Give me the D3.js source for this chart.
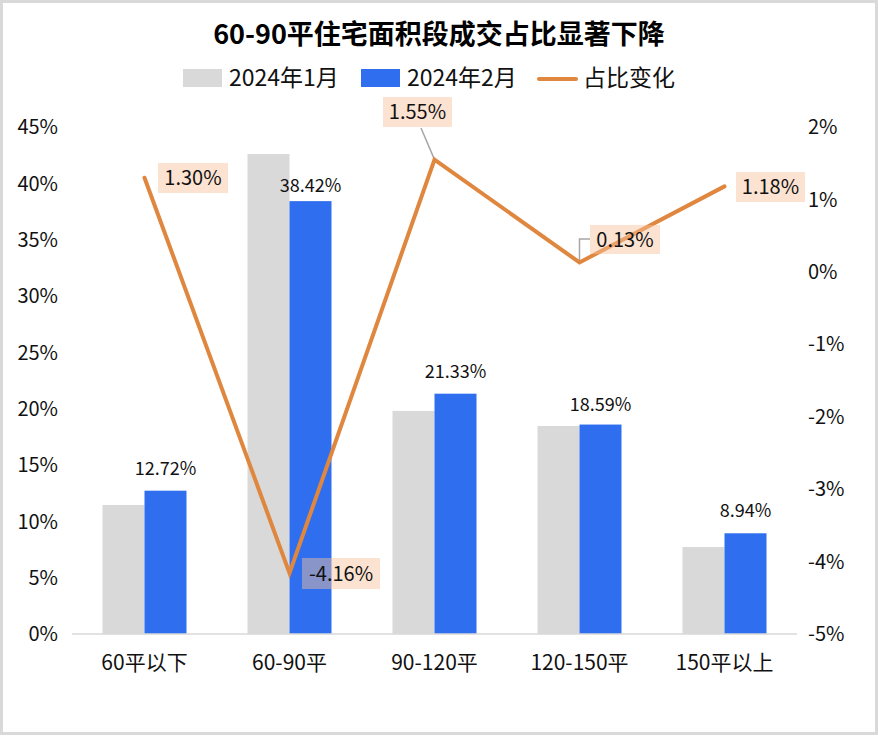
<!DOCTYPE html>
<html><head><meta charset="utf-8">
<script src="https://cdn.jsdelivr.net/npm/d3@7"></script>
<style>
html,body{margin:0;padding:0;background:#fff;}
svg{display:block;}
text{font-family:"Noto Sans CJK SC","Noto Sans",sans-serif;}
</style></head>
<body>
<svg id="chart" width="878" height="736"></svg>
<script>
const title = "60-90平住宅面积段成交占比显著下降";
const categories = ["60平以下", "60-90平", "90-120平", "120-150平", "150平以上"];
const seriesNames = ["2024年1月", "2024年2月", "占比变化"];
const jan = [0.1145, 0.426, 0.198, 0.1846, 0.0772];
const feb = [0.1272, 0.3842, 0.2133, 0.1859, 0.0894];
const change = [0.0130, -0.0416, 0.0155, 0.0013, 0.0118];
const leftTicks = [0, 0.05, 0.10, 0.15, 0.20, 0.25, 0.30, 0.35, 0.40, 0.45];
const rightTicks = [-0.05, -0.04, -0.03, -0.02, -0.01, 0, 0.01, 0.02];

const W = 878, H = 736;
const svg = d3.select("#chart");
const colGray = "#d9d9d9", colBlue = "#2f6fef", colOrange = "#e0873f";

// border
svg.append("rect").attr("x",1.5).attr("y",1.5).attr("width",W-3).attr("height",H-4)
  .attr("fill","#fff").attr("stroke","#d9d9d9").attr("stroke-width",3);

const x = d3.scaleBand().domain(categories).range([72, 797]).padding(0);
const yL = d3.scaleLinear().domain([0, 0.45]).range([634, 127]);
const yR = d3.scaleLinear().domain([-0.05, 0.02]).range([634, 127]);
const barW = 42;
const cx = c => x(c) + x.bandwidth()/2;

// title
svg.append("text").attr("x", 439).attr("y", 44).attr("text-anchor","middle")
  .attr("font-size", 27).attr("font-weight", "bold").attr("fill","#000").text(title);

// legend
const lg = svg.append("g");
const legendItems = [
  {name: seriesNames[0], x: 183, type: "rect", color: colGray},
  {name: seriesNames[1], x: 361, type: "rect", color: colBlue},
  {name: seriesNames[2], x: 537, type: "line", color: colOrange}
];
legendItems.forEach(it => {
  if (it.type === "rect") {
    lg.append("rect").attr("x", it.x).attr("y", 69).attr("width", 39).attr("height", 18).attr("fill", it.color);
  } else {
    lg.append("line").attr("x1", it.x+2).attr("x2", it.x+39).attr("y1", 79).attr("y2", 79)
      .attr("stroke", it.color).attr("stroke-width", 4).attr("stroke-linecap","round");
  }
  lg.append("text").attr("x", it.x + 46).attr("y", 78).attr("dy","0.36em").attr("font-size", 23).attr("fill","#111").text(it.name);
});

// left axis labels
const fmtPct = d => Math.round(d*100) + "%";
svg.append("g").selectAll("text").data(leftTicks).join("text")
  .attr("x", 58).attr("y", d => yL(d)).attr("dy","0.36em").attr("text-anchor","end")
  .attr("font-size", 20).attr("fill","#111").text(fmtPct);
// right axis labels
svg.append("g").selectAll("text").data(rightTicks).join("text")
  .attr("x", 808).attr("y", d => yR(d)).attr("dy","0.36em").attr("text-anchor","start")
  .attr("font-size", 20).attr("fill","#111").text(fmtPct);

// bars
svg.append("g").selectAll("rect").data(categories).join("rect")
  .attr("x", c => cx(c) - barW).attr("width", barW)
  .attr("y", (c,i) => yL(jan[i])).attr("height", (c,i) => yL(0) - yL(jan[i]))
  .attr("fill", colGray);
svg.append("g").selectAll("rect").data(categories).join("rect")
  .attr("x", c => cx(c)).attr("width", barW)
  .attr("y", (c,i) => yL(feb[i])).attr("height", (c,i) => yL(0) - yL(feb[i]))
  .attr("fill", colBlue);

// baseline
svg.append("line").attr("x1", 72).attr("x2", 797).attr("y1", yL(0)).attr("y2", yL(0))
  .attr("stroke", "#d9d9d9").attr("stroke-width", 1.5);

// category labels
svg.append("g").selectAll("text").data(categories).join("text")
  .attr("x", c => cx(c)).attr("y", 662).attr("dy","0.36em").attr("text-anchor","middle")
  .attr("font-size", 21).attr("fill","#111").text(c => c);

// bar value labels (Feb)
const barLabelGap = [16, 9, 16, 14, 16];
svg.append("g").selectAll("text").data(categories).join("text")
  .attr("x", c => cx(c) + barW/2).attr("y", (c,i) => yL(feb[i]) - barLabelGap[i])
  .attr("text-anchor","middle").attr("font-size", 18).attr("fill","#111")
  .text((c,i) => (feb[i]*100).toFixed(2) + "%");

// leader lines
const p2 = [cx(categories[2]), yR(change[2])];
svg.append("line").attr("x1", 421).attr("y1", 128).attr("x2", p2[0]).attr("y2", p2[1])
  .attr("stroke","#a6a6a6").attr("stroke-width",1.5);
const p3 = [cx(categories[3]), yR(change[3])];
svg.append("polyline").attr("points", `${p3[0]},${p3[1]} ${p3[0]},239 590,239`)
  .attr("fill","none").attr("stroke","#a6a6a6").attr("stroke-width",1.5);

// line
const line = d3.line().x((d,i) => cx(categories[i])).y(d => yR(d));
svg.append("path").datum(change).attr("d", line).attr("fill","none")
  .attr("stroke", colOrange).attr("stroke-width", 4)
  .attr("stroke-linejoin","miter").attr("stroke-linecap","round");

// line labels
const lblBoxes = [
  {x: 158, y: 163, w: 70, h: 30},
  {x: 302, y: 558, w: 78, h: 31},
  {x: 383, y: 97, w: 69, h: 30},
  {x: 590, y: 225, w: 70, h: 29},
  {x: 736, y: 172, w: 69, h: 30}
];
const lg2 = svg.append("g");
change.forEach((v,i) => {
  const b = lblBoxes[i];
  lg2.append("rect").attr("x", b.x).attr("y", b.y).attr("width", b.w).attr("height", b.h)
    .attr("fill", "#f8c29a").attr("fill-opacity", 0.45);
  lg2.append("text").attr("x", b.x + b.w/2).attr("y", b.y + b.h/2).attr("dy","0.36em")
    .attr("text-anchor","middle").attr("font-size", 20).attr("fill","#111")
    .text((v*100).toFixed(2) + "%");
});
</script>
</body></html>
